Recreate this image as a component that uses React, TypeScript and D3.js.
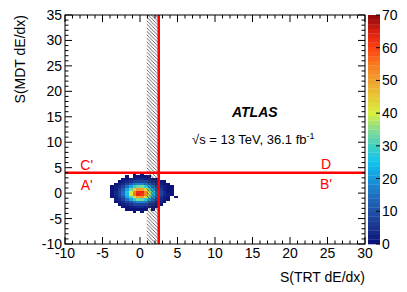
import React, { useEffect, useRef } from 'react';
import * as d3 from 'd3';

// axis ticks
const xTickValues = [-10, -5, 0, 5, 10, 15, 20, 25, 30];
const yTickValues = [-10, -5, 0, 5, 10, 15, 20, 25, 30, 35];
const zTickValues = [0, 10, 20, 30, 40, 50, 60, 70];

// 2D histogram: bin edges and counts (rows from top y=4 down to y=-4)
const binXEdges = [-4, -3.5, -3, -2.5, -2, -1.5, -1, -0.5, 0, 0.5, 1, 1.5, 2, 2.5, 3, 3.5, 4, 4.5, 5];
const binYEdges = [4, 3.5, 3, 2.5, 2, 1.5, 1, 0.5, 0, -0.5, -1, -1.5, -2, -2.5, -3, -3.5, -4];
const counts = [
  [0, 0, 0, 0, 0, 0, 1, 0, 1, 0, 0, 0, 0, 0, 0, 0, 0, 0],
  [0, 0, 0, 0, 1, 0, 1, 1, 1, 1, 1, 0, 0, 0, 0, 0, 0, 0],
  [0, 0, 0, 1, 1, 2, 2, 3, 3, 2, 2, 1, 1, 0, 0, 0, 0, 0],
  [0, 0, 1, 2, 3, 5, 7, 8, 8, 7, 5, 3, 2, 1, 1, 0, 0, 0],
  [0, 1, 2, 4, 7, 12, 16, 18, 18, 15, 12, 7, 4, 2, 1, 1, 0, 0],
  [1, 2, 4, 8, 14, 22, 29, 33, 34, 29, 21, 14, 8, 4, 2, 1, 1, 0],
  [1, 2, 6, 12, 21, 33, 44, 51, 50, 44, 32, 21, 12, 6, 2, 1, 1, 0],
  [1, 3, 7, 14, 26, 40, 54, 62, 63, 53, 40, 26, 14, 7, 3, 1, 1, 0],
  [1, 3, 7, 15, 25, 41, 55, 64, 61, 54, 39, 25, 15, 7, 3, 2, 1, 0],
  [1, 2, 6, 11, 21, 32, 43, 50, 51, 43, 33, 20, 12, 5, 2, 1, 0, 1],
  [0, 2, 4, 8, 14, 21, 29, 34, 33, 28, 22, 14, 7, 4, 2, 1, 0, 0],
  [0, 1, 2, 4, 7, 11, 15, 18, 18, 16, 11, 7, 4, 2, 1, 0, 0, 0],
  [0, 0, 1, 2, 3, 5, 7, 8, 8, 7, 5, 3, 2, 1, 0, 0, 0, 0],
  [0, 0, 0, 1, 1, 2, 2, 3, 3, 2, 2, 1, 1, 0, 0, 0, 0, 0],
  [0, 0, 0, 0, 1, 1, 1, 1, 1, 1, 0, 1, 0, 0, 0, 0, 0, 0],
  [0, 0, 0, 0, 0, 0, 1, 0, 1, 0, 0, 0, 0, 0, 0, 0, 0, 0]
];

// selection cuts
const hatchFrom = 0.9;
const cutX = 2.5;
const cutY = 4;
const regionLabels = ["C'", "A'", 'D', "B'"];

const paletteColors = [
  '#0a0f78', '#1a3490', '#2050a8', '#2070c0', '#1898dc', '#10c4f0', '#40d0c0', '#88dc90',
  '#d8f040', '#e8c834', '#f0a030', '#f87a20', '#ff4010', '#d82010', '#8a0808'
];

const font = "'Liberation Sans', Arial, Helvetica, sans-serif";

const App = () => {
  const ref = useRef<SVGSVGElement>(null);

  useEffect(() => {
    const svg = d3.select(ref.current);
    svg.selectAll('*').remove();

    const left = 65, right = 365, top = 15, bottom = 244;
    const x = d3.scaleLinear().domain([-10, 30]).range([left, right]);
    const y = d3.scaleLinear().domain([-10, 35]).range([bottom, top]);
    const zMax = 70;
    const nBands = 50;
    const color = d3.scaleLinear<string>()
      .domain(paletteColors.map((_, i) => (i * zMax) / (paletteColors.length - 1)))
      .range(paletteColors)
      .interpolate(d3.interpolateRgb);
    const bandColor = (v: number) => {
      const b = Math.min(nBands - 1, Math.floor((v / zMax) * nBands));
      return color(((b + 0.5) * zMax) / nBands);
    };

    const defs = svg.append('defs');
    defs.append('clipPath').attr('id', 'plotClip')
      .append('rect').attr('x', left).attr('y', top).attr('width', right - left).attr('height', bottom - top);
    const pat = defs.append('pattern').attr('id', 'hatch')
      .attr('patternUnits', 'userSpaceOnUse').attr('width', 3.5).attr('height', 3.5);
    pat.append('path')
      .attr('d', 'M-1,-1 L4.5,4.5 M-1,2.5 L1,4.5 M2.5,-1 L4.5,1')
      .attr('stroke', '#333').attr('stroke-width', 0.75).attr('fill', 'none');

    const plot = svg.append('g').attr('clip-path', 'url(#plotClip)');

    // heatmap cells
    counts.forEach((row, r) => {
      row.forEach((v, c) => {
        if (v <= 0) return;
        plot.append('rect')
          .attr('x', x(binXEdges[c]))
          .attr('y', y(binYEdges[r]))
          .attr('width', x(binXEdges[c + 1]) - x(binXEdges[c]))
          .attr('height', y(binYEdges[r + 1]) - y(binYEdges[r]))
          .attr('fill', bandColor(v))
          .attr('shape-rendering', 'crispEdges');
      });
    });

    // hatched region
    plot.append('rect')
      .attr('x', x(hatchFrom)).attr('y', top)
      .attr('width', x(cutX) - x(hatchFrom)).attr('height', bottom - top)
      .attr('fill', 'url(#hatch)');

    // red cut lines
    plot.append('line')
      .attr('x1', x(cutX)).attr('x2', x(cutX)).attr('y1', top).attr('y2', bottom)
      .attr('stroke', '#ff0000').attr('stroke-width', 2.5);
    plot.append('line')
      .attr('x1', left).attr('x2', right).attr('y1', y(cutY)).attr('y2', y(cutY))
      .attr('stroke', '#ff0000').attr('stroke-width', 2.5);

    // frame
    svg.append('rect')
      .attr('x', left).attr('y', top).attr('width', right - left).attr('height', bottom - top)
      .attr('fill', 'none').attr('stroke', '#000').attr('stroke-width', 1);

    // ticks (inside, all four sides)
    const ticks = svg.append('g').attr('stroke', '#000').attr('stroke-width', 1);
    const xMinor = d3.range(-10, 31, 1);
    const yMinor = d3.range(-10, 36, 1);
    xMinor.forEach((t) => {
      const len = xTickValues.includes(t) ? 7 : 3.5;
      ticks.append('line').attr('x1', x(t)).attr('x2', x(t)).attr('y1', bottom).attr('y2', bottom - len);
      ticks.append('line').attr('x1', x(t)).attr('x2', x(t)).attr('y1', top).attr('y2', top + len);
    });
    yMinor.forEach((t) => {
      const len = yTickValues.includes(t) ? 7 : 3.5;
      ticks.append('line').attr('x1', left).attr('x2', left + len).attr('y1', y(t)).attr('y2', y(t));
      ticks.append('line').attr('x1', right).attr('x2', right - len).attr('y1', y(t)).attr('y2', y(t));
    });

    // tick labels
    svg.append('g').selectAll('text').data(xTickValues).enter().append('text')
      .attr('x', (d) => x(d)).attr('y', 258)
      .attr('text-anchor', 'middle')
      .attr('font-family', font).attr('font-size', 14)
      .text((d) => d);
    svg.append('g').selectAll('text').data(yTickValues).enter().append('text')
      .attr('x', 62).attr('y', (d) => y(d)).attr('dy', '0.36em')
      .attr('text-anchor', 'end')
      .attr('font-family', font).attr('font-size', 14)
      .text((d) => d);

    // axis titles
    svg.append('text')
      .attr('x', right).attr('y', 282)
      .attr('text-anchor', 'end')
      .attr('font-family', font).attr('font-size', 14)
      .text('S(TRT dE/dx)');
    svg.append('text')
      .attr('transform', `translate(25,${top}) rotate(-90)`)
      .attr('text-anchor', 'end')
      .attr('font-family', font).attr('font-size', 14)
      .text('S(MDT dE/dx)');

    // colour bar
    const zx0 = 368, zx1 = 380;
    const z = d3.scaleLinear().domain([0, zMax]).range([bottom, top]);
    d3.range(nBands).forEach((b) => {
      const v0 = (b * zMax) / nBands;
      const v1 = ((b + 1) * zMax) / nBands;
      svg.append('rect')
        .attr('x', zx0).attr('y', z(v1))
        .attr('width', zx1 - zx0).attr('height', z(v0) - z(v1) + 0.3)
        .attr('fill', color((v0 + v1) / 2));
    });
    zTickValues.forEach((t) => {
      svg.append('line')
        .attr('x1', zx1).attr('x2', zx1 - 4).attr('y1', z(t)).attr('y2', z(t))
        .attr('stroke', '#000').attr('stroke-width', 1);
    });
    svg.append('g').selectAll('text').data(zTickValues).enter().append('text')
      .attr('x', 382).attr('y', (d) => z(d)).attr('dy', '0.36em')
      .attr('font-family', font).attr('font-size', 14)
      .text((d) => d);

    // ATLAS label
    svg.append('text')
      .attr('x', 232).attr('y', 117)
      .attr('font-family', font).attr('font-size', 14)
      .attr('font-weight', 'bold').attr('font-style', 'italic')
      .text('ATLAS');
    const lumi = svg.append('text')
      .attr('x', 192).attr('y', 144)
      .attr('font-family', font).attr('font-size', 13);
    lumi.append('tspan').text('\u221As = 13 TeV, 36.1 fb');
    lumi.append('tspan').attr('dy', -5).attr('font-size', 9).text('-1');

    // region labels
    const labelPos = [
      { x: -7.1, y: 170 },
      { x: -7.1, y: 190 },
      { x: 24.8, y: 169 },
      { x: 24.8, y: 189 }
    ];
    regionLabels.forEach((s, i) => {
      svg.append('text')
        .attr('x', x(labelPos[i].x)).attr('y', labelPos[i].y)
        .attr('text-anchor', 'middle')
        .attr('font-family', font).attr('font-size', 14)
        .attr('fill', '#ff0000')
        .text(s);
    });
  }, []);

  return (
    <svg
      ref={ref}
      width={407}
      height={292}
      style={{ position: 'absolute', left: 0, top: 0, background: '#fff' }}
    />
  );
};

export default App;
